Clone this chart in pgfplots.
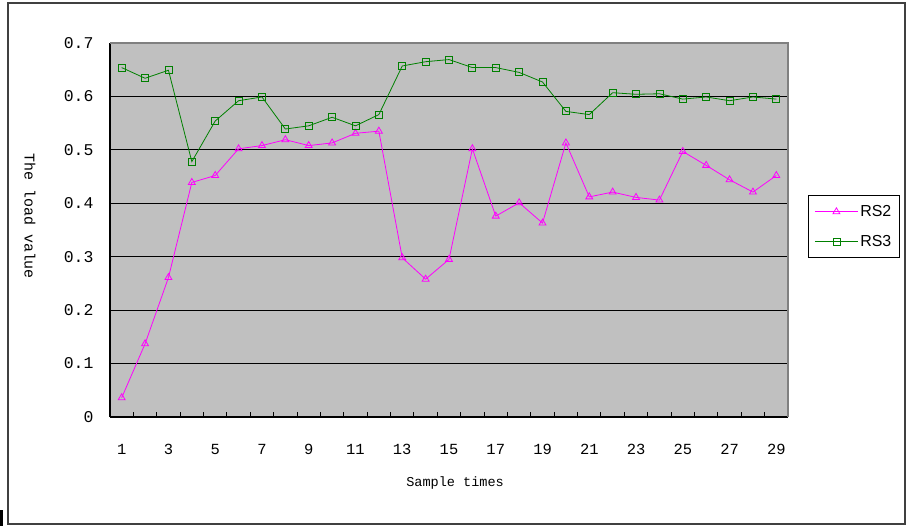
\documentclass[border=0pt]{standalone}
\usepackage{fontspec}
\setmainfont{Liberation Mono}
\newfontfamily\legfont{Liberation Sans}
\usepackage{pgfplots}
\pgfplotsset{compat=1.18}
\definecolor{bggray}{HTML}{C0C0C0}
\definecolor{rsmag}{HTML}{FF00FF}
\definecolor{rsgreen}{HTML}{008000}
\definecolor{framegray}{HTML}{404040}
\definecolor{bordergray}{HTML}{808080}
\begin{document}
\begin{tikzpicture}
\useasboundingbox (0bp,0bp) rectangle (909bp,-526bp);
\fill[white] (0bp,0bp) rectangle (909bp,-526bp);
\draw[framegray, line width=1.4bp] (8bp,-3bp) rectangle (905bp,-524bp);
\fill[black] (0bp,-510bp) rectangle (2.5bp,-526bp);
\begin{axis}[
  at={(110bp,-417bp)}, anchor=south west,
  scale only axis, width=678bp, height=374bp,
  xmin=0.5, xmax=29.5, ymin=0, ymax=0.7,
  axis background/.style={fill=bggray},
  axis lines*=left,
  axis line style={black, line width=1.2bp},
  xtick={1,3,5,7,9,11,13,15,17,19,21,23,25,27,29},
  xticklabels={1,3,5,7,9,11,13,15,17,19,21,23,25,27,29},
  major x tick style={draw=none},
  minor xtick={1.5,2.5,...,29.5},
  minor tick length=5bp,
  minor x tick style={black, line width=1bp},
  xticklabel style={font=\fontsize{15.5}{18}\selectfont, yshift=-24bp},
  ytick={0.1,0.2,0.3,0.4,0.5,0.6},
  yticklabels={0.1,0.2,0.3,0.4,0.5,0.6},
  extra y ticks={0,0.7},
  extra y tick labels={0,0.7},
  extra y tick style={grid=none},
  ytick style={draw=none},
  yticklabel style={font=\fontsize{16.5}{19}\selectfont, xshift=-13bp},
  ymajorgrids,
  grid style={black, line width=1.2bp},
  every axis x label/.style={at={(axis description cs:0.509,-0.176)}, anchor=center},
  every axis y label/.style={at={(axis description cs:-0.118,0.537)}, rotate=-90, anchor=center},
  xlabel={\fontsize{13.6}{16}\selectfont Sample times},
  ylabel={\fontsize{15}{18}\selectfont The load value},
  legend style={at={(axis description cs:1.0295,0.5936)}, anchor=north west,
    draw=black, fill=white, line width=1bp, font=\legfont\fontsize{16}{19}\selectfont,
    inner xsep=6bp, inner ysep=8bp, row sep=13bp, legend cell align=left},
  legend image code/.code={%
    \draw[#1, mark repeat=2, mark phase=2] plot coordinates {(0bp,0bp) (21.5bp,0bp) (43bp,0bp)};},
  clip=false,
]
\addplot[rsmag, line width=0.8bp, mark=triangle, mark size=4bp, mark options={solid, line width=0.8bp}]
coordinates {
(1,0.036) (2,0.137) (3,0.261) (4,0.439) (5,0.452) (6,0.502) (7,0.508) (8,0.519)
(9,0.508) (10,0.513) (11,0.531) (12,0.535) (13,0.298) (14,0.258) (15,0.295)
(16,0.502) (17,0.376) (18,0.401) (19,0.363) (20,0.513) (21,0.412) (22,0.421)
(23,0.411) (24,0.406) (25,0.497) (26,0.471) (27,0.444) (28,0.421) (29,0.452)
};
\addlegendentry{RS2}
\addplot[rsgreen, line width=0.8bp, mark=square, mark size=3.5bp, mark options={solid, line width=0.8bp}]
coordinates {
(1,0.654) (2,0.634) (3,0.649) (4,0.478) (5,0.554) (6,0.592) (7,0.599) (8,0.539)
(9,0.545) (10,0.561) (11,0.545) (12,0.566) (13,0.657) (14,0.665) (15,0.669)
(16,0.654) (17,0.654) (18,0.645) (19,0.627) (20,0.572) (21,0.566) (22,0.607)
(23,0.604) (24,0.605) (25,0.595) (26,0.599) (27,0.592) (28,0.599) (29,0.595)
};
\addlegendentry{RS3}
\draw[bordergray, line width=1.2bp] (rel axis cs:0,1) -- (rel axis cs:1,1) -- (rel axis cs:1,0);
\end{axis}
\end{tikzpicture}
\end{document}
